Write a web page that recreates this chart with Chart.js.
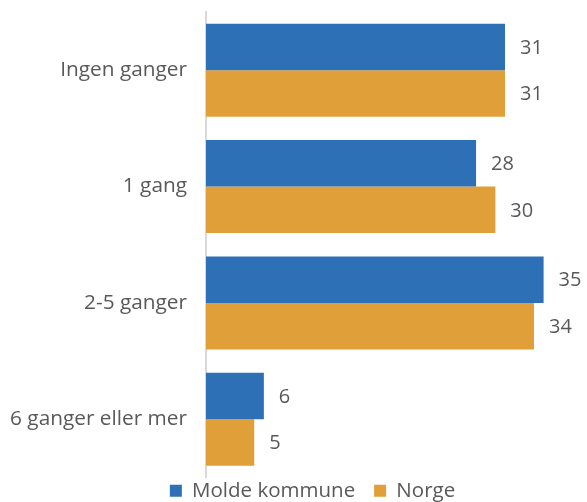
<!DOCTYPE html>
<html>
<head>
<meta charset="utf-8">
<script src="https://cdn.jsdelivr.net/npm/chart.js@4/dist/chart.umd.min.js"></script>
<style>
  html, body { margin: 0; padding: 0; background: #fff; }
  #wrap { width: 587px; height: 502px; }
</style>
</head>
<body>
<div id="wrap"><canvas id="chart"></canvas></div>
<script>
const kategorier = ['Ingen ganger', '1 gang', '2-5 ganger', '6 ganger eller mer'];
const molde = [31, 28, 35, 6];
const norge = [31, 30, 34, 5];

const fontFamily = '"Open Sans", "Noto Sans", sans-serif';
const tekstFarge = '#595959';

// Tall ved enden av hver søyle
const verdiEtiketter = {
  id: 'verdiEtiketter',
  afterLayout(chart) {
    // forklaringen står litt til høyre for midten, som i originalen
    if (chart.legend) chart.legend.left += 38;
  },
  afterDatasetsDraw(chart) {
    const ctx = chart.ctx;
    ctx.save();
    ctx.font = '20px ' + fontFamily;
    ctx.fillStyle = tekstFarge;
    ctx.textBaseline = 'middle';
    ctx.textAlign = 'left';
    chart.data.datasets.forEach((ds, i) => {
      chart.getDatasetMeta(i).data.forEach((bar, j) => {
        ctx.fillText(ds.data[j], bar.x + 15, bar.y + 1);
      });
    });
    ctx.restore();
  }
};

new Chart(document.getElementById('chart'), {
  type: 'bar',
  data: {
    labels: kategorier,
    datasets: [
      { label: 'Molde kommune', data: molde, backgroundColor: '#2e70b5' },
      { label: 'Norge', data: norge, backgroundColor: '#e09f38' }
    ]
  },
  options: {
    indexAxis: 'y',
    responsive: true,
    maintainAspectRatio: false,
    animation: false,
    layout: { padding: { top: 12, right: 0, left: 0, bottom: -9 } },
    datasets: { bar: { categoryPercentage: 0.8, barPercentage: 1.0 } },
    scales: {
      x: { display: false, min: 0, max: 39.5 },
      y: {
        grid: { display: false },
        border: { display: true, color: '#d9d9d9', width: 2 },
        ticks: { color: tekstFarge, font: { family: fontFamily, size: 20.8 }, padding: 11 },
        afterFit(scale) {
          scale.width = 206;
          scale.paddingTop = 0;
          scale.paddingBottom = 0;
        }
      }
    },
    plugins: {
      legend: {
        position: 'bottom',
        labels: {
          color: tekstFarge,
          font: { family: fontFamily, size: 20.5 },
          boxWidth: 12, boxHeight: 12,
          padding: 3,
          // litt ekstra luft mellom de to forklaringene
          generateLabels(chart) {
            const items = Chart.defaults.plugins.legend.labels.generateLabels(chart);
            items[0].text = items[0].text + '   ';
            return items;
          }
        }
      },
      tooltip: { enabled: false }
    }
  },
  plugins: [verdiEtiketter]
});
</script>
</body>
</html>
